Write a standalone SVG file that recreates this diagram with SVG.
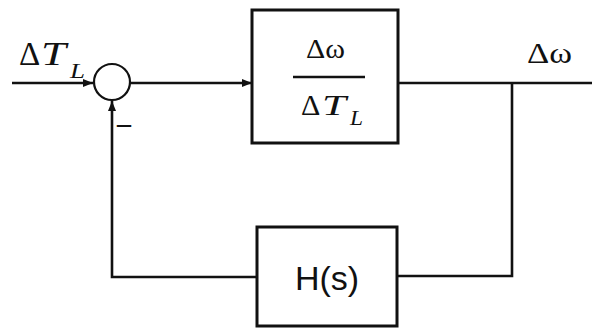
<svg xmlns="http://www.w3.org/2000/svg" width="592" height="329" viewBox="0 0 592 329">
<style>
.ln{fill:none;stroke:#111;stroke-width:2.6}
.bx{fill:#fff;stroke:#111;stroke-width:3}
.t{font-family:"Liberation Serif","DejaVu Serif",serif;fill:#111}
.i{font-style:italic}
.s{font-family:"Liberation Sans",Arial,sans-serif;fill:#111}
</style>
<defs>
<marker id="ar" viewBox="0 0 10 10" refX="10" refY="5" markerWidth="10" markerHeight="10" markerUnits="userSpaceOnUse" orient="auto">
<path d="M0,1 L10,5 L0,9 Z" fill="#111"/>
</marker>
</defs>
<rect width="592" height="329" fill="#fff"/>
<g id="connectors">
<line class="ln" x1="12" y1="83" x2="93" y2="83" marker-end="url(#ar)"/>
<line class="ln" x1="130" y1="83" x2="252" y2="83" marker-end="url(#ar)"/>
<line class="ln" x1="398" y1="83" x2="592" y2="83"/>
<polyline class="ln" points="512,83 512,276 397,276"/>
<polyline class="ln" points="257,277 112,277 112,101" marker-end="url(#ar)"/>
</g>
<g id="sum">
<circle cx="112" cy="82" r="18" fill="#fff" stroke="#111" stroke-width="2.2"/>
<text class="t" x="117" y="132" font-size="28" font-weight="bold">–</text>
</g>
<g id="input-label">
<text class="t" x="19" y="65" font-size="33">Δ<tspan class="i" x="41" textLength="25" lengthAdjust="spacingAndGlyphs">T</tspan><tspan class="i" x="70" y="78" font-size="22" textLength="15" lengthAdjust="spacingAndGlyphs">L</tspan></text>
</g>
<g id="plant">
<rect class="bx" x="252" y="10" width="146" height="133"/>
<text class="t" x="306" y="58" font-size="27" textLength="39" lengthAdjust="spacingAndGlyphs">Δω</text>
<line x1="293" y1="77" x2="365" y2="77" stroke="#111" stroke-width="2.4"/>
<text class="t" x="301" y="115" font-size="30">Δ<tspan class="i" x="322" textLength="24" lengthAdjust="spacingAndGlyphs">T</tspan><tspan class="i" x="350" y="125" font-size="20" textLength="13" lengthAdjust="spacingAndGlyphs">L</tspan></text>
</g>
<g id="output-label">
<text class="t" x="527" y="63" font-size="29" textLength="45" lengthAdjust="spacingAndGlyphs">Δω</text>
</g>
<g id="feedback">
<rect class="bx" x="257" y="227" width="140" height="99"/>
<text class="s" x="327" y="290" font-size="34" text-anchor="middle">H(s)</text>
</g>
</svg>
